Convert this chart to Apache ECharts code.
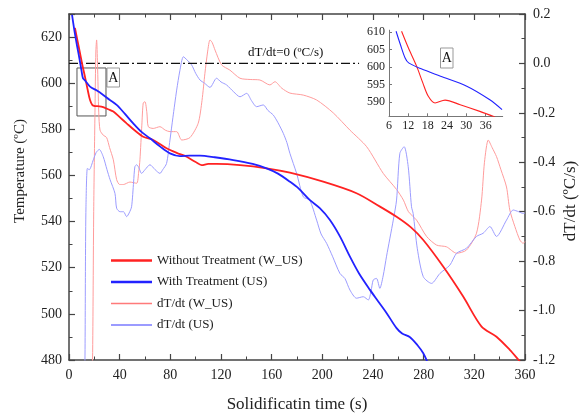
<!DOCTYPE html>
<html>
<head>
<meta charset="utf-8">
<script src="https://cdn.jsdelivr.net/npm/echarts@6/dist/echarts.min.js"></script>
<style>html,body{margin:0;padding:0;background:#fff}#c{width:579px;height:416px}</style>
</head>
<body>
<div id="c"></div>
<script>
// ---- data (time s, value) ----
const tempWUS = [[4.7,624],[6.5,619],[8.7,613],[10.5,608],[12.6,602.8],[14.6,597.5],[16.6,592.7],[18.5,590.5],[20.5,590.1],[24,590],[27,589.6],[31,588.7],[35,587.7],[40,585.3],[45.5,582.6],[52,579.5],[58.6,576.8],[66.5,575.4],[77,571.8],[85,569.8],[92.9,568.1],[100,565.8],[104.7,564.5],[110,565],[116.5,565],[135,564.5],[156,563.1],[174.4,561.2],[200.7,557.3],[227,552.3],[245.5,546.5],[258.6,542.1],[270,537.5],[279.7,532],[295.4,520.5],[311.2,507.5],[325.7,494.5],[337.5,490.1],[348,484.4],[355,480],[358,478]];
const tempUS = [[2.4,629.6],[4.5,622],[6.5,615.8],[8.3,610.5],[10,605],[11,602.2],[12.6,601.2],[16.6,598.5],[22,596.8],[27,594.9],[32,592.8],[37.6,590.6],[44,586.8],[50.7,582.6],[57,579],[63.9,576.1],[72,572.5],[79.7,569.6],[87.6,568.4],[95,568.6],[103.4,568.6],[115,567.9],[129.7,566.7],[145,565],[156,563.1],[165,560.8],[174.4,557.3],[181,554.5],[190,549.4],[198,545.8],[206,540.7],[214,533.5],[221.8,524.8],[229,517.5],[237.6,510.4],[244,505.5],[250.8,500.3],[258.6,493.8],[263,491.5],[269,490],[275,486.5],[279.7,482.9],[283,479]];
const rateWUS = [[17.8,-1.3],[18.6,-1.2],[19.5,-0.6],[20.5,-0.2],[21.2,0.05],[21.8,0.095],[22.5,0.0],[23.5,-0.2],[24.5,-0.27],[27,-0.29],[29.7,-0.30],[32,-0.34],[35,-0.39],[37.6,-0.47],[40,-0.49],[42.9,-0.49],[48.1,-0.48],[53.4,-0.485],[55,-0.44],[56,-0.39],[57.5,-0.25],[58.6,-0.16],[60,-0.155],[61.5,-0.2],[62.6,-0.256],[66.5,-0.263],[71.8,-0.256],[76,-0.27],[79.7,-0.276],[85,-0.276],[89,-0.31],[95.5,-0.30],[102,-0.242],[105,-0.15],[107.3,-0.04],[109.5,0.05],[111.3,0.095],[113,0.085],[115.3,0.054],[120.5,-0.006],[127,-0.027],[135,-0.06],[143,-0.065],[150.7,-0.067],[158.6,-0.087],[162.6,-0.074],[167.9,-0.1],[174.4,-0.12],[184.9,-0.128],[195.5,-0.148],[208.6,-0.2],[221.8,-0.27],[235,-0.337],[248.1,-0.445],[258.6,-0.51],[264,-0.553],[268,-0.6],[274.4,-0.634],[282.3,-0.70],[290.2,-0.735],[298,-0.742],[306,-0.768],[313.8,-0.755],[321.7,-0.687],[325.7,-0.553],[328,-0.4],[331,-0.31],[334,-0.34],[337.5,-0.377],[341,-0.43],[345.4,-0.5],[348,-0.593],[352,-0.66],[356,-0.715],[358.6,-0.728],[360,-0.72]];
const rateUS = [[12,-1.3],[12.6,-1.2],[13,-0.8],[13.4,-0.58],[14.5,-0.425],[16,-0.43],[19.2,-0.39],[21.5,-0.36],[23.9,-0.348],[27,-0.377],[30,-0.43],[32.4,-0.47],[36.3,-0.526],[37.6,-0.586],[40.3,-0.60],[43,-0.60],[45.5,-0.62],[47.5,-0.605],[49.4,-0.58],[51,-0.48],[52,-0.418],[53.4,-0.41],[55,-0.42],[57.3,-0.445],[60,-0.43],[63.9,-0.41],[68,-0.43],[71.8,-0.445],[74,-0.43],[77,-0.405],[79.7,-0.31],[82,-0.22],[85,-0.108],[87.5,-0.03],[90.3,0.027],[93,0.015],[96.8,-0.006],[100,-0.04],[103.4,-0.067],[107,-0.08],[111.3,-0.097],[116.5,-0.06],[120,-0.075],[124.4,-0.087],[130,-0.115],[135,-0.135],[140.3,-0.121],[144,-0.15],[148.1,-0.175],[153.4,-0.168],[157,-0.19],[161.3,-0.209],[165,-0.24],[169.2,-0.283],[172,-0.32],[174.4,-0.364],[179.7,-0.445],[185,-0.54],[190,-0.553],[195.5,-0.634],[199,-0.69],[203.4,-0.728],[208,-0.78],[213.9,-0.85],[217.8,-0.87],[221.8,-0.917],[227,-0.95],[232.3,-0.944],[236.3,-0.957],[238.5,-0.92],[240.2,-0.876],[242.8,-0.87],[245.4,-0.91],[248,-0.86],[250.7,-0.78],[256,-0.634],[258.6,-0.553],[261.2,-0.364],[264.6,-0.337],[267.8,-0.418],[270.4,-0.58],[271.7,-0.607],[275,-0.75],[279.7,-0.863],[286.2,-0.89],[292.8,-0.85],[300.7,-0.816],[306,-0.768],[313.8,-0.748],[321.7,-0.70],[327,-0.687],[332.3,-0.66],[337.5,-0.70],[345.4,-0.634],[350.7,-0.593],[355,-0.6],[358.6,-0.607],[360,-0.605]];
// inset (region A)
const insetWUS = [[9.9,610.2],[12,605.5],[14.6,600.2],[16.5,595.5],[18.2,591.7],[20.3,589.8],[23.4,590.6],[28.1,589.3],[34.2,587.4],[38.9,585.8]];
const insetUS = [[8.2,610.2],[9.5,606.5],[11,602.6],[12.1,601.2],[16,599.5],[22,597.4],[30.3,594.5],[37.3,590.7],[41.1,587.9]];
const insetXTicks = [6,12,18,24,30,36];
const insetYTicks = [590,595,600,605,610];
const zeroLine = [[0,0],[229,0]];
const names = ['Without Treatment (W_US)','With Treatment (US)','dT/dt (W_US)','dT/dt (US)'];

const FONT = 'Liberation Serif';
const TXT = '#222';
const AX = '#444';
const RED = '#ff2222', BLUE = '#2222ff', PINK = '#ff9c9c', LBLUE = '#9c9cff';

const chart = echarts.init(document.getElementById('c'), null, {renderer:'canvas'});
const mainTick = {show:true, inside:true, length:6, lineStyle:{color:AX, width:1.2}};
const mainMinor = {show:true, splitNumber:2, length:3.5, lineStyle:{color:AX, width:1}};
const thickIcon = 'path://M0,0L40,0L40,2.2L0,2.2Z';
const thinIcon = 'path://M0,0L40,0L40,1.3L0,1.3Z';
chart.setOption({
  animation:false,
  backgroundColor:'#fff',
  textStyle:{fontFamily:FONT},
  grid:[
    {left:69, right:54, top:14, bottom:56, containLabel:false, outerBoundsMode:'none'},
    {left:389, top:30.2, width:113.7, height:86.1, containLabel:false, outerBoundsMode:'none'}
  ],
  legend:{
    data:[
      {name:names[0], icon:thickIcon, itemStyle:{color:RED, borderWidth:0}},
      {name:names[1], icon:thickIcon, itemStyle:{color:BLUE, borderWidth:0}},
      {name:names[2], icon:thinIcon, itemStyle:{color:'#ff7a7a', borderWidth:0}},
      {name:names[3], icon:thinIcon, itemStyle:{color:'#7a7aff', borderWidth:0}}
    ],
    orient:'vertical', left:106, top:249, itemWidth:41, itemHeight:14, itemGap:8.5,
    textStyle:{fontFamily:FONT, fontSize:13, color:TXT}, selectedMode:false
  },
  xAxis:[
    {type:'value', gridIndex:0, min:0, max:360, interval:40, position:'bottom',
     name:'Solidificatin time (s)', nameLocation:'middle', nameGap:36,
     nameTextStyle:{fontFamily:FONT, fontSize:17, color:TXT},
     axisLine:{show:true, onZero:false, lineStyle:{color:AX, width:1.5}}, axisTick:mainTick, minorTick:mainMinor,
     splitLine:{show:false}, axisLabel:{fontFamily:FONT, fontSize:14, color:TXT, margin:8}},
    {type:'value', gridIndex:0, min:0, max:360, interval:40, position:'top',
     axisLine:{show:true, onZero:false, lineStyle:{color:AX, width:1.5}}, axisTick:mainTick, minorTick:mainMinor,
     splitLine:{show:false}, axisLabel:{show:false}},
    {type:'value', gridIndex:1, min:6, max:41.3, position:'bottom',
     axisLine:{show:true, onZero:false, lineStyle:{color:'#777', width:1}},
     axisTick:{show:true, inside:true, length:3, customValues:insetXTicks, lineStyle:{color:'#777'}},
     splitLine:{show:false},
     axisLabel:{customValues:insetXTicks, fontFamily:FONT, fontSize:12, color:TXT, margin:4}}
  ],
  yAxis:[
    {type:'value', gridIndex:0, min:480, max:630, interval:20, position:'left',
     axisLine:{show:true, onZero:false, lineStyle:{color:AX, width:1.5}}, axisTick:mainTick, minorTick:mainMinor,
     splitLine:{show:false},
     axisLabel:{fontFamily:FONT, fontSize:14, color:TXT, margin:7, showMaxLabel:false,
       formatter:v=> v>=630 ? '' : String(v)}},
    {type:'value', gridIndex:0, min:-1.2, max:0.2, interval:0.2, position:'right',
     axisLine:{show:true, onZero:false, lineStyle:{color:AX, width:1.5}}, axisTick:mainTick, minorTick:mainMinor,
     splitLine:{show:false},
     axisLabel:{fontFamily:FONT, fontSize:14, color:TXT, margin:8, formatter:v=>(Math.abs(v)<1e-9?0:v).toFixed(1)}},
    {type:'value', gridIndex:1, min:586, max:610.5, position:'left',
     axisLine:{show:true, onZero:false, lineStyle:{color:'#777', width:1}},
     axisTick:{show:true, inside:true, length:3, customValues:insetYTicks, lineStyle:{color:'#777'}},
     splitLine:{show:false},
     axisLabel:{customValues:insetYTicks, fontFamily:FONT, fontSize:12, color:TXT, margin:4}}
  ],
  series:[
    {name:names[0], type:'line', xAxisIndex:0, yAxisIndex:0, data:tempWUS, smooth:0.3, symbol:'none',
     lineStyle:{color:RED, width:1.8}, itemStyle:{color:RED}, z:5,
     markArea:{silent:true, itemStyle:{color:'rgba(0,0,0,0)', borderColor:'#555', borderWidth:1},
       data:[[{coord:[6.3,606.6]},{coord:[29.2,585.8]}]]}},
    {name:names[1], type:'line', xAxisIndex:0, yAxisIndex:0, data:tempUS, smooth:0.3, symbol:'none',
     lineStyle:{color:BLUE, width:1.8}, itemStyle:{color:BLUE}, z:5},
    {name:names[2], type:'line', xAxisIndex:0, yAxisIndex:1, data:rateWUS, smooth:0.25, symbol:'none',
     lineStyle:{color:PINK, width:1}, itemStyle:{color:PINK}, z:3},
    {name:names[3], type:'line', xAxisIndex:0, yAxisIndex:1, data:rateUS, smooth:0.25, symbol:'none',
     lineStyle:{color:LBLUE, width:1}, itemStyle:{color:LBLUE}, z:3},
    {type:'line', xAxisIndex:0, yAxisIndex:1, data:zeroLine, symbol:'none',
     lineStyle:{color:'#111', width:1.2, type:[9,3,2,3]}, z:4, silent:true},
    {type:'line', xAxisIndex:2, yAxisIndex:2, data:insetWUS, smooth:0.3, symbol:'none',
     lineStyle:{color:RED, width:1.1}, z:5},
    {type:'line', xAxisIndex:2, yAxisIndex:2, data:insetUS, smooth:0.3, symbol:'none',
     lineStyle:{color:BLUE, width:1.1}, z:5}
  ],
  graphic:[
    {type:'text', x:20.5, y:171, rotation:Math.PI/2,
     style:{text:'Temperature (ºC)', font:'15px "Liberation Serif"', fill:TXT, align:'center', verticalAlign:'middle'}},
    {type:'text', x:571, y:201, rotation:Math.PI/2,
     style:{text:'dT/dt (ºC/s)', font:'17px "Liberation Serif"', fill:TXT, align:'center', verticalAlign:'middle'}},
    {type:'text', left:248, top:46, style:{text:'dT/dt=0 (ºC/s)', font:'13px "Liberation Serif"', fill:'#111'}},
    {type:'rect', shape:{x:107, y:68, width:12.5, height:19}, style:{fill:'#fff', stroke:'#999', lineWidth:1}},
    {type:'text', x:113.3, y:78, style:{text:'A', font:'14px "Liberation Serif"', fill:'#111', align:'center', verticalAlign:'middle'}},
    {type:'rect', shape:{x:440.5, y:48, width:12.5, height:20}, style:{fill:'#fff', stroke:'#999', lineWidth:1}},
    {type:'text', x:446.8, y:58.5, style:{text:'A', font:'14px "Liberation Serif"', fill:'#111', align:'center', verticalAlign:'middle'}}
  ]
});
</script>
</body>
</html>
